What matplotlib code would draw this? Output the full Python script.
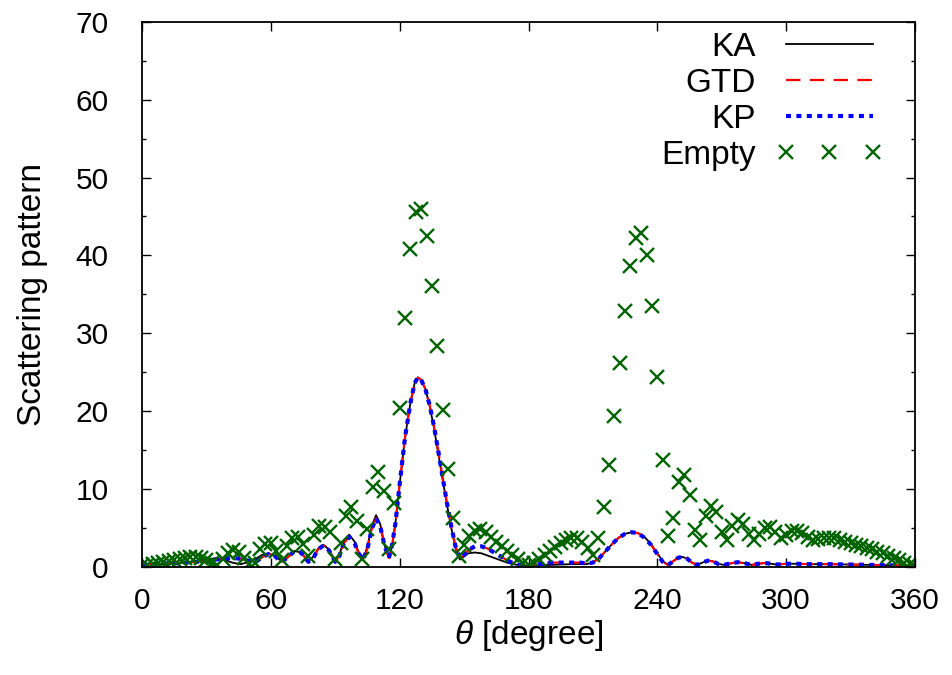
import matplotlib
matplotlib.use("Agg")
import matplotlib.pyplot as plt
import numpy as np
from matplotlib.ticker import MultipleLocator

plt.rcParams["font.family"] = ["Liberation Sans", "DejaVu Sans"]
plt.rcParams["mathtext.fontset"] = "custom"
plt.rcParams["mathtext.it"] = "Liberation Sans:italic"
plt.rcParams["mathtext.rm"] = "Liberation Sans"

# curves (KA / GTD / KP) at these angles
CURVE_THETA = [0, 5, 10, 15, 20, 25, 30, 34, 38, 42, 46, 50, 53, 56, 59, 62, 65,
               68, 71, 74, 77.5, 80, 82, 84.5, 87, 90, 92, 94, 96.5, 99, 101, 103,
               105, 107, 109, 111, 113, 115, 116.5, 118, 120, 122.5, 125, 127, 128.5, 130,
               132, 134, 136, 138, 140, 142, 144, 146, 148, 150, 152, 155, 158, 161, 164, 167, 170, 173, 176, 180,
               185, 190, 195, 200, 204, 207, 210, 213, 216, 219, 222, 225, 228, 231, 234, 237, 240, 242.5, 245,
               247, 249.5, 251.5, 254, 256, 258.5, 261, 263.5, 266, 268.5, 271, 274, 277.5, 281, 284, 287, 290, 293, 296,
               300, 305, 310, 320, 330, 340, 350, 360]

KA = [0.2, 0.3, 0.3, 0.4, 0.5, 0.7, 0.9, 1.05, 0.9, 0.5, 0.3, 0.6, 1.0, 1.5, 1.7, 1.3, 0.7,
      1.2, 2.0, 1.8, 0.7, 1.3, 2.3, 2.8, 2.2, 0.7, 1.6, 3.3, 4.1, 3.2, 1.8, 0.9,
      2.6, 5.2, 6.6, 5.4, 2.7, 1.1, 2.6, 5.5, 10.6, 16.6, 21.0, 23.6, 24.3, 24.0,
      22.8, 20.6, 17.8, 14.5, 11.2, 8.0, 5.0, 2.4, 0.9, 1.3, 1.7, 1.8, 1.7, 1.4, 1.1, 0.8, 0.5, 0.3, 0.15, 0.1,
      0.15, 0.2, 0.25, 0.3, 0.3, 0.3, 0.5, 1.1, 2.0, 2.9, 3.7, 4.2, 4.4, 4.3, 3.8, 2.9, 1.7, 0.7, 0.2,
      0.6, 1.1, 1.25, 1.0, 0.55, 0.2, 0.5, 0.75, 0.65, 0.35, 0.2, 0.4, 0.55, 0.4, 0.2, 0.35, 0.45, 0.35, 0.25,
      0.35, 0.35, 0.3, 0.3, 0.25, 0.2, 0.15, 0.1]

GTD = [0.3, 0.3, 0.4, 0.4, 0.5, 0.6, 0.7, 0.9, 1.0, 1.1, 1.0, 0.7, 0.6, 1.2, 1.6, 1.3, 0.6,
       1.2, 2.0, 1.8, 0.6, 1.2, 2.2, 2.7, 2.1, 0.6, 1.4, 3.0, 3.8, 3.0, 1.6, 0.9,
       2.3, 4.8, 6.2, 5.1, 2.6, 1.1, 2.8, 5.5, 10.6, 16.6, 21.0, 23.6, 24.3, 24.0,
       22.8, 20.7, 18.0, 14.8, 11.5, 8.2, 5.2, 2.6, 1.0, 1.5, 2.1, 2.6, 2.6, 2.3, 1.8, 1.3, 0.8, 0.4, 0.2, 0.1,
       0.3, 0.5, 0.5, 0.5, 0.5, 0.4, 0.5, 1.1, 2.0, 2.9, 3.7, 4.2, 4.4, 4.3, 3.7, 2.8, 1.6, 0.6, 0.2,
       0.6, 1.1, 1.25, 1.0, 0.5, 0.2, 0.5, 0.75, 0.65, 0.3, 0.2, 0.4, 0.55, 0.4, 0.2, 0.35, 0.45, 0.35, 0.25,
       0.35, 0.35, 0.3, 0.3, 0.25, 0.2, 0.15, 0.1]

KP = [0.3, 0.3, 0.4, 0.4, 0.5, 0.6, 0.7, 0.9, 1.0, 1.1, 1.0, 0.7, 0.6, 1.2, 1.6, 1.3, 0.6,
      1.2, 2.0, 1.8, 0.6, 1.2, 2.2, 2.7, 2.1, 0.6, 1.4, 3.0, 3.8, 3.0, 1.6, 0.9,
      2.3, 4.8, 6.2, 5.1, 2.6, 1.1, 2.8, 5.5, 10.6, 16.6, 21.0, 23.6, 24.3, 24.0,
      22.8, 20.7, 18.0, 14.8, 11.5, 8.2, 5.2, 2.6, 1.0, 1.5, 2.1, 2.6, 2.6, 2.3, 1.8, 1.3, 0.8, 0.4, 0.2, 0.1,
      0.3, 0.5, 0.5, 0.5, 0.5, 0.4, 0.5, 1.1, 2.0, 2.9, 3.7, 4.2, 4.4, 4.3, 3.7, 2.8, 1.6, 0.6, 0.2,
      0.6, 1.1, 1.25, 1.0, 0.5, 0.2, 0.5, 0.75, 0.65, 0.3, 0.2, 0.4, 0.55, 0.4, 0.2, 0.35, 0.45, 0.35, 0.25,
      0.35, 0.35, 0.3, 0.3, 0.25, 0.2, 0.15, 0.1]

# empty-case samples, every 2.5 degrees
EMPTY_THETA = np.arange(0, 360.01, 2.5)
EMPTY = [0.2, 0.25, 0.35, 0.45, 0.55, 0.7, 0.85, 1.0, 1.1, 1.2, 1.25, 1.1, 0.85, 0.45, 0.2,   # 0-35
         0.9, 1.7, 2.1, 1.9, 1.1, 0.35, 0.4, 2.2, 2.9, 3.0, 2.0, 0.8,                         # 37.5-65
         2.6, 3.6, 3.8, 2.9, 1.4, 4.0, 5.2, 5.1, 4.4, 1.0,                                     # 67.5-90
         3.0, 6.5, 7.6, 5.8, 1.0, 4.8, 10.2, 12.2, 9.7, 2.3, 8.1,                              # 92.5-117.5
         20.4, 32.0, 40.8, 45.6, 46.0, 42.5, 36.1, 28.3, 20.1, 12.5, 6.2, 1.4,                 # 120-147.5
         2.8, 3.9, 4.6, 4.8, 4.4, 3.8, 3.2, 2.6, 2.0, 1.5, 0.9, 0.4, 0.15,                     # 150-180
         0.5, 1.0, 1.5, 2.0, 2.5, 3.0, 3.4, 3.7, 3.6, 3.2, 2.4, 1.5, 3.6,                      # 182.5-212.5
         7.7, 13.1, 19.3, 26.2, 32.9, 38.6, 42.2, 42.9, 40.0, 33.5, 24.4, 13.7, 3.9,           # 215-245
         6.2, 10.9, 11.8, 9.2, 4.7, 3.4, 6.5, 7.8, 7.0, 4.4,                                   # 247.5-270
         3.4, 5.2, 6.0, 5.5, 4.2, 3.4, 4.2, 5.0, 5.1, 4.4, 3.6, 4.0,                           # 272.5-300
         4.5, 4.6, 4.3, 3.8, 3.4, 3.5, 3.7, 3.7, 3.6, 3.4, 3.2, 3.0,                           # 302.5-330
         2.8, 2.6, 2.4, 2.2, 1.9, 1.7, 1.4, 1.1, 0.8, 0.5, 0.3, 0.1]                           # 332.5-360

fig = plt.figure(figsize=(9.52, 6.75), dpi=100)
ax = fig.add_axes([142 / 952, 1 - 566.5 / 675, (915 - 142) / 952, (566.5 - 22) / 675])

ax.plot(CURVE_THETA, KA, color="black", lw=1.3, label="KA")
ax.plot(CURVE_THETA, GTD, color="#ff0000", lw=1.6, dashes=(6.5, 4.2), label="GTD")
ax.plot(CURVE_THETA, KP, color="#0000ff", lw=3.0, dashes=(1.2, 1.3), label="KP")
ax.plot(EMPTY_THETA, EMPTY, ls="none", marker="x", ms=10.5, mew=1.7, color="#006400",
        label="Empty")

ax.set_xlim(0, 360)
ax.set_ylim(0, 70)
ax.set_xticks(range(0, 361, 60))
ax.set_yticks(range(0, 71, 10))
ax.yaxis.set_minor_locator(MultipleLocator(5))
ax.tick_params(which="major", direction="in", length=6.5, width=1.0, top=True, right=True,
               labelsize=21.5)
ax.tick_params(which="minor", direction="in", length=3.2, width=1.0, top=True, right=True)
ax.tick_params(axis="x", pad=15)
ax.tick_params(axis="y", pad=24)
for s in ax.spines.values():
    s.set_linewidth(1.3)

ax.set_xlabel(r"$\theta$ [degree]", fontsize=24, labelpad=2)
ax.set_ylabel("Scattering pattern", fontsize=24, labelpad=20)

leg = ax.legend(loc="upper right", bbox_to_anchor=(0.958, 0.982), frameon=False,
                markerfirst=False, fontsize=24, handlelength=3.2, handletextpad=0.6,
                labelspacing=0.15, borderpad=0, borderaxespad=0, numpoints=3)

fig.savefig("out.png", dpi=100)
